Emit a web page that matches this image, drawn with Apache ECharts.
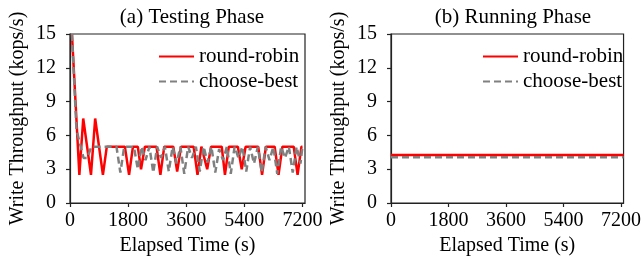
<!DOCTYPE html>
<html>
<head>
<meta charset="utf-8">
<script src="https://cdn.jsdelivr.net/npm/echarts@6/dist/echarts.min.js"></script>
<style>
html,body{margin:0;padding:0;background:#fff;}
#c{width:644px;height:268px;}
</style>
</head>
<body>
<div id="c"></div>
<script>
// ---- data ----
const xTicks = [0, 1800, 3600, 5400, 7200];
const yTicks = [0, 3, 6, 9, 12, 15];
const seriesNames = ['round-robin', 'choose-best'];
const titles = ['(a) Testing Phase', '(b) Running Phase'];

// (a) Testing phase
const testRrT = [60, 290, 410, 650, 780, 1020, 1140, 1700, 1830, 1950, 2100, 2200, 2320, 2680, 2800, 2920, 3200, 3320, 3440, 3830, 3950, 4070, 4130, 4250, 4370, 4700, 4800, 4920, 5200, 5320, 5440, 5830, 5950, 6070, 6340, 6460, 6580, 6930, 7050, 7170, 7200];
const testRrV = [15, 2.5, 7.5, 2.5, 7.5, 2.5, 5, 5, 2.5, 5, 5, 3, 5, 5, 2.5, 5, 5, 2.8, 5, 5, 2.5, 5, 5, 3, 5, 5, 2.5, 5, 5, 3, 5, 5, 2.5, 5, 5, 2.5, 5, 5, 2.5, 5, 5];
const testCbT = [60, 200, 420, 540, 660, 1440, 1560, 1680, 1980, 2100, 2220, 2340, 2460, 2580, 2700, 2820, 2940, 3060, 3180, 3300, 3420, 3540, 3660, 3780, 3900, 4020, 4140, 4260, 4380, 4500, 4620, 4740, 4860, 4980, 5100, 5220, 5340, 5460, 5580, 5700, 5820, 5940, 6060, 6180, 6300, 6420, 6540, 6660, 6780, 6900, 7020, 7140, 7200];
const testCbV = [15, 6.5, 4, 4, 5, 5, 2.7, 5, 5, 3, 5, 3.8, 5, 2.7, 5, 4, 5, 2.8, 5, 3.5, 5, 2.6, 5, 4, 5, 2.8, 5, 3.6, 5, 2.7, 4.8, 3.8, 5, 2.6, 5, 4, 5, 2.8, 5, 3.5, 5, 2.7, 5, 3.8, 5, 2.6, 5, 4, 5, 2.7, 5, 3.5, 5];

// (b) Running phase
const runT = [0, 3600, 7280];
const runRrV = [4.25, 4.25, 4.25];
const runCbV = [4.05, 4.05, 4.05];

const zip = (t, v) => t.map((x, i) => [x, v[i]]);

const FONT = 'Liberation Serif';
const AX = '#222';
const RED = '#ff0000';
const GRAY = '#808080';
const plain = v => String(v);

function xAxis(gi) {
  return {
    type: 'value', gridIndex: gi, min: 0, max: 7280,
    name: 'Elapsed Time (s)', nameLocation: 'middle', nameGap: 33,
    nameTextStyle: {fontFamily: FONT, fontSize: 20, color: '#000'},
    axisLine: {show: true, lineStyle: {color: AX, width: 1.2}},
    axisTick: {show: true, length: 4, inside: false, customValues: xTicks, lineStyle: {color: AX, width: 1.2}},
    axisLabel: {customValues: xTicks, formatter: plain, fontFamily: FONT, fontSize: 20, color: '#000', margin: 8},
    splitLine: {show: false}
  };
}
function yAxis(gi) {
  return {
    type: 'value', gridIndex: gi, min: 0, max: 15, interval: 3,
    name: 'Write Throughput (kops/s)', nameLocation: 'middle', nameGap: 42,
    nameTextStyle: {fontFamily: FONT, fontSize: 20, color: '#000'},
    axisLine: {show: true, lineStyle: {color: AX, width: 1.2}},
    axisTick: {show: true, length: 4, inside: false, customValues: yTicks, lineStyle: {color: AX, width: 1.2}},
    axisLabel: {customValues: yTicks, formatter: plain, fontFamily: FONT, fontSize: 20, color: '#000', margin: 14},
    splitLine: {show: false}
  };
}
function lineSeries(name, gi, data, color, dashed) {
  return {
    name: name, type: 'line', xAxisIndex: gi, yAxisIndex: gi,
    data: data, symbol: 'none', animation: false,
    lineStyle: {color: color, width: 2.5, type: dashed ? [7, 4] : 'solid'},
    itemStyle: {color: color}
  };
}
function legend(left) {
  return {
    orient: 'vertical', left: left, top: 41, data: seriesNames,
    itemWidth: 35, itemHeight: 14, itemGap: 4,
    itemStyle: {opacity: 0},
    textStyle: {fontFamily: FONT, fontSize: 21, color: '#000', lineHeight: 21},
    selectedMode: false
  };
}

const chart = echarts.init(document.getElementById('c'), null, {renderer: 'canvas'});
chart.setOption({
  animation: false,
  backgroundColor: '#fff',
  title: [
    {text: titles[0], left: 187, top: 2, textAlign: 'center', textStyle: {fontFamily: FONT, fontSize: 21, fontWeight: 'normal', color: '#000'}},
    {text: titles[1], left: 508, top: 2, textAlign: 'center', textStyle: {fontFamily: FONT, fontSize: 21, fontWeight: 'normal', color: '#000'}}
  ],
  grid: [
    {left: 70, top: 34, width: 235, height: 169, show: true, borderColor: AX, borderWidth: 1.2, backgroundColor: 'transparent'},
    {left: 391, top: 34, width: 235, height: 169, show: true, borderColor: AX, borderWidth: 1.2, backgroundColor: 'transparent'}
  ],
  legend: [legend(153), legend(477)],
  xAxis: [xAxis(0), xAxis(1)],
  yAxis: [yAxis(0), yAxis(1)],
  series: [
    lineSeries(seriesNames[0], 0, zip(testRrT, testRrV), RED, false),
    lineSeries(seriesNames[1], 0, zip(testCbT, testCbV), GRAY, true),
    lineSeries(seriesNames[0], 1, zip(runT, runRrV), RED, false),
    lineSeries(seriesNames[1], 1, zip(runT, runCbV), GRAY, true)
  ]
});
</script>
</body>
</html>
